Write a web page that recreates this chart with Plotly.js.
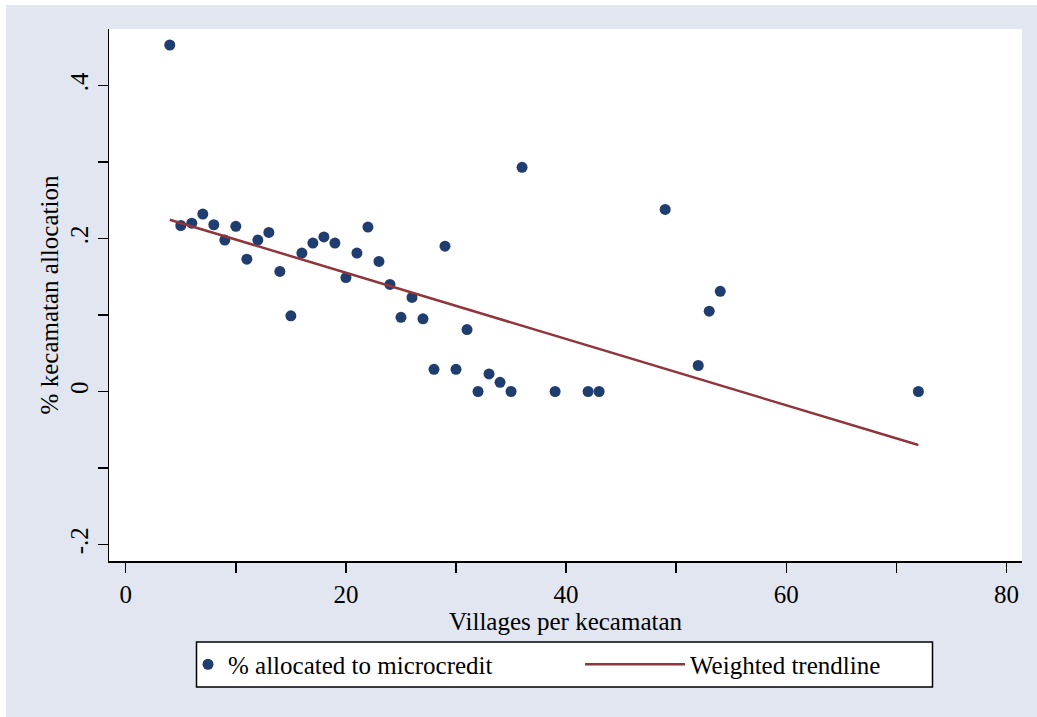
<!DOCTYPE html>
<html>
<head>
<meta charset="utf-8">
<script src="https://cdn.plot.ly/plotly-3.0.1.min.js"></script>
<style>
  html, body { margin: 0; padding: 0; background: #ffffff; width: 1037px; height: 717px; overflow: hidden; }
  #chart { position: absolute; left: 6px; top: 5px; width: 1031px; height: 712px; }
</style>
</head>
<body>
<div id="chart"></div>
<script>
// Villages per kecamatan (x) and share allocated to microcredit (y)
const villages = [4, 5, 6, 7, 8, 9, 10, 11, 12, 13, 14, 15, 16, 17, 18, 19, 20, 21, 22, 23, 24, 25, 26, 27, 28, 29, 30, 31, 32, 33, 34, 35, 36, 39, 42, 43, 49, 52, 53, 54, 72];
const microcredit = [0.453, 0.217, 0.220, 0.232, 0.218, 0.198, 0.216, 0.173, 0.198, 0.208, 0.157, 0.099, 0.181, 0.194, 0.202, 0.194, 0.149, 0.181, 0.215, 0.170, 0.140, 0.097, 0.123, 0.095, 0.029, 0.190, 0.029, 0.081, 0.000, 0.023, 0.012, 0.000, 0.293, 0.000, 0.000, 0.000, 0.238, 0.034, 0.105, 0.131, 0.000];

// Weighted trendline endpoints
const trendX = [4, 72];
const trendY = [0.2246, -0.0700];

// Tick labels
const xTickVals = [0, 20, 40, 60, 80];
const xTickText = ['0', '20', '40', '60', '80'];
const yTickVals = [-0.2, 0, 0.2, 0.4];
const yTickText = ['-.2', '0', '.2', '.4'];
const yGridVals = [0, 0.2, 0.4];

const seriesNames = ['% allocated to microcredit', 'Weighted trendline'];

const bg = '#e1e6f0';
const font = '"Liberation Serif", "Times New Roman", serif';
const fs = 25;
const yRange = [-0.2216, 0.4739];

// pixel helpers for legend placement (plot area spans x 109..1022, y 29..561 in page)
const px = v => (v - 109) / 913;
const py = v => (561 - v) / 532;

const traces = [
  {
    x: villages, y: microcredit, type: 'scatter', mode: 'markers',
    name: seriesNames[0], xaxis: 'x', yaxis: 'y2', legend: 'legend',
    marker: { color: '#1f3d6e', size: 11 }
  },
  {
    x: trendX, y: trendY, type: 'scatter', mode: 'lines',
    name: seriesNames[1], xaxis: 'x', yaxis: 'y2', legend: 'legend2',
    line: { color: '#90353b', width: 2.5 }
  }
];

const tickStyle = { ticks: 'outside', ticklen: 10, tickwidth: 1.5, tickcolor: '#000' };

const layout = {
  width: 1031, height: 712,
  paper_bgcolor: bg, plot_bgcolor: '#ffffff',
  margin: { l: 103, r: 15, t: 24, b: 156 },
  font: { family: font, size: fs, color: '#000000' },
  showlegend: true,
  xaxis: Object.assign({
    range: [-1.52, 81.41],
    tickvals: xTickVals, ticktext: xTickText,
    minor: Object.assign({ dtick: 10, tick0: 0, showgrid: false }, tickStyle),
    showline: true, linecolor: '#000', linewidth: 1.5,
    showgrid: false, zeroline: false,
    tickfont: { family: font, size: fs },
    title: { text: 'Villages per kecamatan', font: { family: font, size: fs }, standoff: 0 },
    automargin: false, fixedrange: true
  }, tickStyle),
  // grid-only axis underneath the data
  yaxis: {
    range: yRange, tickvals: yGridVals, showticklabels: false, ticks: '',
    showgrid: true, gridcolor: '#dfe4ee', gridwidth: 2,
    showline: false, zeroline: false, automargin: false, fixedrange: true
  },
  yaxis2: Object.assign({
    overlaying: 'y', side: 'left', anchor: 'x',
    range: yRange,
    tickvals: yTickVals, ticktext: yTickText,
    tickangle: -90,
    minor: Object.assign({ dtick: 0.1, tick0: 0, showgrid: false }, tickStyle),
    showline: true, linecolor: '#000', linewidth: 1.5,
    showgrid: false, zeroline: false,
    tickfont: { family: font, size: fs },
    title: { text: '% kecamatan allocation', font: { family: font, size: fs }, standoff: 0 },
    automargin: false, fixedrange: true
  }, tickStyle),
  legend: {
    orientation: 'h', x: px(188), xanchor: 'left', y: py(664.5), yanchor: 'middle',
    bgcolor: 'rgba(0,0,0,0)', borderwidth: 0,
    font: { family: font, size: fs }, itemwidth: 30
  },
  legend2: {
    orientation: 'h', x: px(580), xanchor: 'left', y: py(664.5), yanchor: 'middle',
    bgcolor: 'rgba(0,0,0,0)', borderwidth: 0,
    font: { family: font, size: fs }, itemwidth: 100
  },
  shapes: [{
    type: 'rect', xref: 'paper', yref: 'paper', layer: 'below',
    x0: px(196.5), x1: px(932.5), y0: py(642), y1: py(687),
    line: { color: '#000', width: 1.5 }, fillcolor: '#ffffff'
  }]
};

Plotly.newPlot('chart', traces, layout, { displayModeBar: false, staticPlot: true });
</script>
</body>
</html>
